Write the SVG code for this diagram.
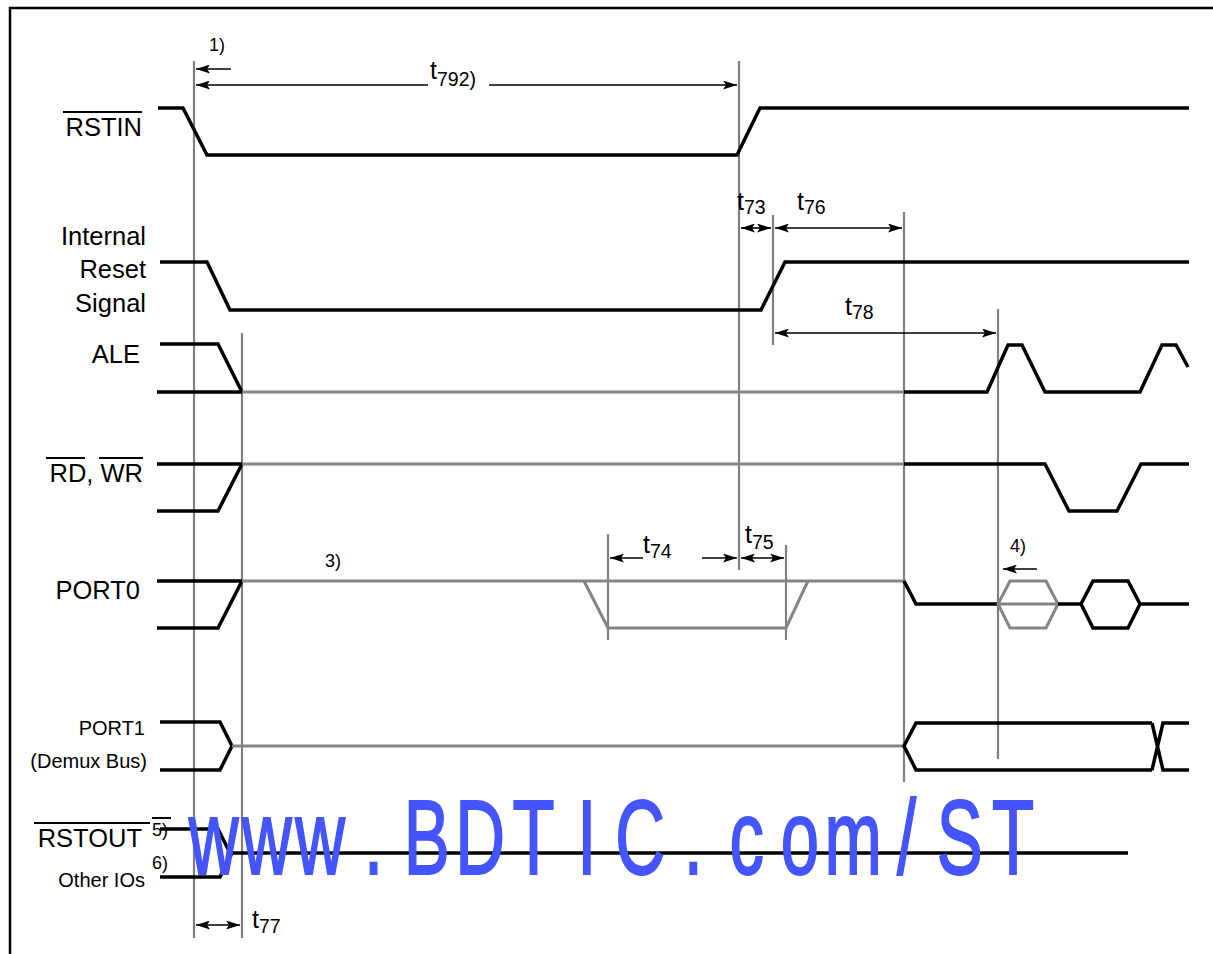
<svg xmlns="http://www.w3.org/2000/svg" width="1213" height="954" viewBox="0 0 1213 954">
<style>
.sig{fill:none;stroke:#000;stroke-width:3.5;stroke-linejoin:miter}
.gsig{fill:none;stroke:#858585;stroke-width:3}
.grid{stroke:#808080;stroke-width:2.2;fill:none}
.dim{stroke:#000;stroke-width:1.6;fill:none}
.bar{stroke:#000;stroke-width:2}
text{font-family:"Liberation Sans",Arial,sans-serif;fill:#000}
.lbl{font-size:25.5px;text-anchor:end}
.sm{font-size:20px;text-anchor:end}
.note{font-size:18px}
.t{font-size:25px}
.sub{font-size:19.5px}
.wm{font-family:"Liberation Sans",Arial,sans-serif;font-size:106px;fill:#4455ff;stroke:#4455ff;stroke-width:2;text-anchor:middle}
</style>
<defs>
<marker id="ah" viewBox="0 0 14 9" refX="14" refY="4.5" markerWidth="14" markerHeight="9" markerUnits="userSpaceOnUse" orient="auto-start-reverse">
<path d="M0,0 L14,4.5 L0,9 L3,4.5 Z" fill="#000"/>
</marker>
</defs>
<rect width="1213" height="954" fill="#fff"/>
<path d="M10,954 V8 H1213" fill="none" stroke="#000" stroke-width="2.5"/>

<g id="gridlines">
<line class="grid" x1="194" y1="61" x2="194" y2="938" stroke-width="2.6"/>
<line class="grid" x1="242" y1="333" x2="242" y2="938"/>
<line class="grid" x1="739" y1="61" x2="739" y2="570" stroke-width="2.6"/>
<line class="grid" x1="773" y1="215" x2="773" y2="345"/>
<line class="grid" x1="904" y1="212" x2="904" y2="782"/>
<line class="grid" x1="998" y1="309" x2="998" y2="759"/>
<line class="grid" x1="608" y1="534" x2="608" y2="640"/>
<line class="grid" x1="786" y1="545" x2="786" y2="640"/>
</g>

<g id="RSTIN">
<text class="lbl" x="142" y="136">RSTIN</text>
<line class="bar" x1="63" y1="112" x2="142" y2="112"/>
<path class="sig" d="M158,108 H183 L207,155 H737 L760,108 H1189"/>
</g>

<g id="InternalReset">
<text class="lbl" x="146" y="245">Internal</text>
<text class="lbl" x="146" y="278">Reset</text>
<text class="lbl" x="146" y="312">Signal</text>
<path class="sig" d="M160,262 H207 L230,310 H761 L785,262 H1189"/>
</g>

<g id="ALE">
<text class="lbl" x="140" y="363">ALE</text>
<path class="sig" d="M160,344 H218 L242,392 M157,392 H242"/>
<path class="gsig" d="M242,392 H904"/>
<path class="sig" d="M904,392 H987 L1008,345 H1022 L1045,392 H1140 L1162,345 H1176 L1188,367"/>
</g>

<g id="RDWR">
<text class="lbl" x="143" y="482">RD, WR</text>
<line class="bar" x1="46" y1="458" x2="85" y2="458"/>
<line class="bar" x1="99" y1="458" x2="143" y2="458"/>
<path class="sig" d="M157,464 H242 M157,511 H218 L242,464"/>
<path class="gsig" d="M242,464 H904"/>
<path class="sig" d="M904,464 H1045 L1069,511 H1117 L1141,464 H1189"/>
</g>

<g id="PORT0">
<text class="lbl" x="140" y="599">PORT0</text>
<path class="sig" d="M157,581 H242 M157,628 H218 L242,581"/>
<path class="gsig" d="M242,581 H904 M584,581 L608,628 H786 L808,581"/>
<path class="sig" d="M904,581 L916,604 H998"/>
<path class="gsig" d="M998,604 L1010,581 H1046 L1058,604 L1046,628 H1010 Z M998,604 H1058"/>
<path class="sig" d="M1058,604 H1081 M1081,604 L1093,581 H1128 L1140,604 L1128,628 H1093 Z M1140,604 H1189"/>
</g>

<g id="PORT1">
<text class="sm" x="145" y="735">PORT1</text>
<text class="sm" x="147" y="768">(Demux Bus)</text>
<path class="sig" d="M160,722 H220 L232,746 L220,770 H160"/>
<path class="gsig" d="M232,746 H904"/>
<path class="sig" d="M1152,723 H916 L904,746 L916,770 H1152 M1152,723 L1163,770 H1189 M1152,770 L1163,723 H1189"/>
</g>

<g id="RSTOUT">
<text class="lbl" x="142" y="847">RSTOUT</text>
<line class="bar" x1="34" y1="823" x2="150" y2="823"/>
<line class="bar" x1="152" y1="818" x2="171" y2="818"/>
<text class="note" x="152" y="836">5)</text>
<text class="note" x="152" y="869">6)</text>
<text class="sm" x="145" y="887">Other IOs</text>
<path class="sig" d="M160,829 H218 L230,853 M160,877 H220 L232,853 M230,853 H1128"/>
</g>

<g id="connectors">
<line class="dim" x1="231" y1="69" x2="196" y2="69" marker-end="url(#ah)" stroke-width="2"/>
<line class="dim" x1="428" y1="85" x2="196" y2="85" marker-end="url(#ah)"/>
<line class="dim" x1="489" y1="85" x2="737" y2="85" marker-end="url(#ah)"/>
<line class="dim" x1="741" y1="228" x2="771" y2="228" marker-start="url(#ah)" marker-end="url(#ah)"/>
<line class="dim" x1="775" y1="228" x2="902" y2="228" marker-start="url(#ah)" marker-end="url(#ah)"/>
<line class="dim" x1="775" y1="333" x2="996" y2="333" marker-start="url(#ah)" marker-end="url(#ah)"/>
<line class="dim" x1="643" y1="558" x2="610" y2="558" marker-end="url(#ah)" stroke-width="2"/>
<line class="dim" x1="702" y1="558" x2="737" y2="558" marker-end="url(#ah)" stroke-width="2"/>
<line class="dim" x1="741" y1="558" x2="784" y2="558" marker-start="url(#ah)" marker-end="url(#ah)" stroke-width="2"/>
<line class="dim" x1="1037" y1="569" x2="1003" y2="569" marker-end="url(#ah)" stroke-width="2"/>
<line class="dim" x1="196" y1="925" x2="240" y2="925" marker-start="url(#ah)" marker-end="url(#ah)" stroke-width="2"/>
</g>

<g id="labels">
<text class="note" x="209" y="51">1)</text>
<text class="t" x="430" y="79">t<tspan class="sub" y="86">792)</tspan></text>
<text class="t" x="737" y="210">t<tspan class="sub" y="214">73</tspan></text>
<text class="t" x="797" y="210">t<tspan class="sub" y="214">76</tspan></text>
<text class="t" x="845" y="315">t<tspan class="sub" y="319">78</tspan></text>
<text class="t" x="643" y="553">t<tspan class="sub" y="558">74</tspan></text>
<text class="t" x="745" y="543">t<tspan class="sub" y="549">75</tspan></text>
<text class="t" x="252" y="928">t<tspan class="sub" y="933">77</tspan></text>
<text class="note" x="325" y="567">3)</text>
<text class="note" x="1010" y="552">4)</text>
</g>

<text class="wm" transform="translate(0,874) scale(0.65,1)" x="328.7 410.7 492.7 574.7 656.7 738.7 820.7 902.7 984.7 1066.7 1148.7 1230.7 1312.7 1394.7 1476.7 1558.7" y="0">www.BDTIC.com/ST</text>
</svg>
